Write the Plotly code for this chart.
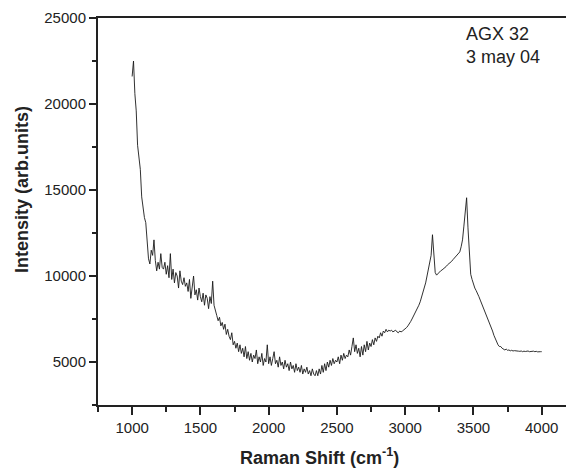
import plotly.graph_objects as go

raman_shift = list(range(1000, 4001, 10))

intensity = [
    # 1000-1090
    21600, 22500, 20600, 19600, 17600, 16800, 16200, 14600, 13800, 13400,
    # 1100-1190
    13100, 12000, 11000, 10700, 11500, 11200, 12100, 10900, 10300, 10800,
    # 1200-1290
    10400, 11300, 10500, 10400, 10800, 10100, 10600, 9900, 11300, 9800,
    # 1300-1390
    10400, 9600, 10200, 10000, 9300, 10300, 9700, 9500, 9900, 9400,
    # 1400-1490
    9600, 9100, 9800, 8700, 9300, 10000, 8900, 9200, 8600, 9300,
    # 1500-1590
    8800, 8500, 9000, 8300, 8900, 8700, 8100, 8800, 8400, 9700,
    # 1600-1690
    8300, 7900, 7700, 7400, 7600, 7100, 7300, 6900, 7200, 6600,
    # 1700-1790
    6900, 6500, 6300, 6700, 6000, 6200, 5800, 6100, 5600, 6000,
    # 1800-1890
    5500, 5800, 5300, 5900, 5200, 5600, 5100, 5500, 5000, 5400,
    # 1900-1990
    5200, 5700, 4900, 5300, 5000, 5500, 4800, 5200, 5000, 6000,
    # 2000-2090
    4900, 5300, 4800, 5200, 5600, 4900, 5100, 4700, 5300, 4800,
    # 2100-2190
    5000, 4600, 5100, 4700, 4900, 4500, 5000, 4600, 4800, 4400,
    # 2200-2290
    4900, 4500, 4700, 4400, 4800, 4300, 4600, 4400, 4700, 4300,
    # 2300-2390
    4500, 4200, 4600, 4300, 4200, 4500, 4200, 4600, 4300, 4800,
    # 2400-2490
    4400, 4900, 4500, 5000, 4700, 5100, 4800, 5200, 4900, 5100,
    # 2500-2590
    5000, 5300, 4900, 5400, 5100, 5500, 5200, 5400, 5300, 5700,
    # 2600-2690
    5400, 5900, 6400, 5600, 6000, 5500, 5800, 5300, 5900, 5400,
    # 2700-2790
    6000, 5600, 6200, 5700, 6100, 5900, 6300, 6000, 6400, 6200,
    # 2800-2890
    6500, 6400, 6700, 6500, 6800, 6700, 6900, 6750, 6850, 6800,
    # 2900-2990
    6850, 6750, 6800, 6850, 6750, 6700, 6800, 6750, 6800, 6850,
    # 3000-3090
    6950, 7000, 7100, 7200, 7350, 7500, 7650, 7800, 7950, 8100,
    # 3100-3190
    8300, 8500, 8750, 9000, 9300, 9600, 10000, 10400, 10800, 11200,
    # 3200-3290
    12400, 11300, 10200, 10050, 10150, 10200, 10300, 10350, 10400, 10500,
    # 3300-3390
    10550, 10650, 10700, 10800, 10850, 10950, 11050, 11100, 11200, 11300,
    # 3400-3490
    11400, 11700, 12100, 12900, 13900, 14550, 12800, 11000, 10100, 9800,
    # 3500-3590
    9500, 9300, 9150, 9000, 8800, 8600, 8400, 8250, 8100, 7900,
    # 3600-3690
    7700, 7500, 7300, 7000, 6800, 6550, 6350, 6150, 6000, 5900,
    # 3700-3790
    5900, 5800, 5750, 5700, 5750, 5680, 5700, 5650, 5680, 5640,
    # 3800-3890
    5660, 5640, 5610, 5630, 5620, 5640, 5600, 5630, 5610, 5620,
    # 3900-3990
    5640, 5600, 5620, 5610, 5630, 5600, 5620, 5590, 5610, 5600,
    # 4000
    5600,
]

x_ticks = [1000, 1500, 2000, 2500, 3000, 3500, 4000]
x_tick_labels = ["1000", "1500", "2000", "2500", "3000", "3500", "4000"]
y_ticks = [5000, 10000, 15000, 20000, 25000]
y_tick_labels = ["5000", "10000", "15000", "20000", "25000"]
label_lines = ["AGX 32", "3 may 04"]
x_title = "<b>Raman Shift (cm<sup>-1</sup>)</b>"
y_title = "<b>Intensity (arb.units)</b>"

FONT = "Liberation Sans, Arial, sans-serif"
INK = "#222222"

fig = go.Figure()
fig.add_trace(go.Scatter(
    x=raman_shift, y=intensity, mode="lines",
    line=dict(color="#1a1a1a", width=0.9),
    showlegend=False,
))

axis_font = dict(family=FONT, size=15, color=INK)

fig.update_xaxes(
    range=[750, 4178],
    tickvals=x_ticks, ticktext=x_tick_labels,
    ticks="outside", ticklen=8, tickwidth=1.5, tickcolor=INK,
    minor=dict(ticks="outside", ticklen=5, dtick=250, tickwidth=1.5, tickcolor=INK),
    showline=True, linecolor=INK, linewidth=2, mirror=True,
    showgrid=False, zeroline=False, automargin=False,
    tickfont=axis_font,
)
fig.update_yaxes(
    range=[2500, 25000],
    tickvals=y_ticks, ticktext=y_tick_labels,
    ticks="outside", ticklen=7, tickwidth=1.5, tickcolor=INK,
    minor=dict(ticks="outside", ticklen=4, dtick=2500, tickwidth=1.5, tickcolor=INK),
    showline=True, linecolor=INK, linewidth=2,
    showgrid=False, zeroline=False, automargin=False,
    tickfont=axis_font,
)

# axis titles placed as annotations (reference titles are slightly off-centre)
fig.add_annotation(
    text=x_title, xref="paper", yref="paper", x=0.474, y=-0.132,
    xanchor="center", yanchor="middle", showarrow=False,
    font=dict(family=FONT, size=18, color=INK),
)
fig.add_annotation(
    text=y_title, xref="paper", yref="paper", x=-0.162, y=0.556,
    xanchor="center", yanchor="middle", textangle=-90, showarrow=False,
    font=dict(family=FONT, size=18, color=INK),
)

fig.add_annotation(
    text="<br>".join(label_lines),
    xref="paper", yref="paper", x=0.783, y=0.99,
    xanchor="left", yanchor="top", align="left", showarrow=False,
    font=dict(family=FONT, size=18, color=INK),
)

fig.update_layout(
    width=566, height=470,
    margin=dict(l=98, r=0, t=18, b=65),
    paper_bgcolor="white", plot_bgcolor="white",
)

fig.write_html(
    "out.html",
    config={"displayModeBar": False},
    post_script="document.body.style.margin='0';document.body.style.overflow='hidden';",
)
